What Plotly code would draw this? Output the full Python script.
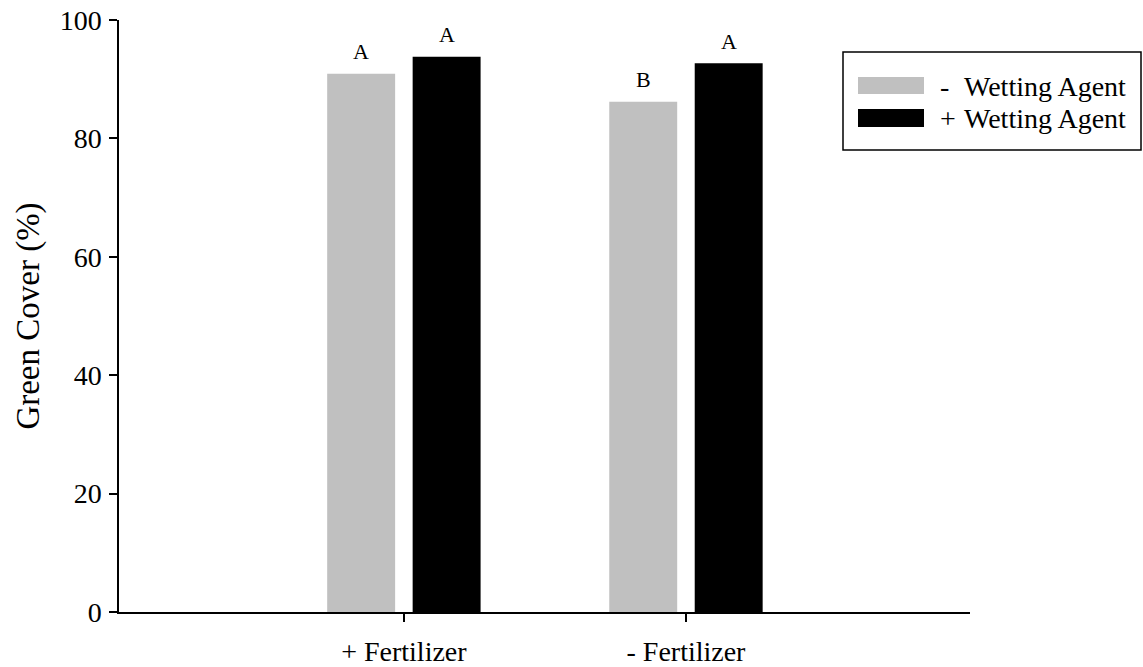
import plotly.graph_objects as go

# Data
categories = ["+ Fertilizer", "- Fertilizer"]
series_names = ["-  Wetting Agent", "+ Wetting Agent"]
no_agent = [90.9, 86.2]
with_agent = [93.8, 92.7]
no_agent_letters = ["A", "B"]
with_agent_letters = ["A", "A"]
y_ticks = [0, 20, 40, 60, 80, 100]

FONT = "Liberation Serif, Times New Roman, serif"
GRAY = "#c0c0c0"
BLACK = "#000000"

fig = go.Figure()
fig.add_trace(go.Bar(x=categories, y=no_agent, name=series_names[0],
                     marker=dict(color=GRAY, line=dict(width=0)), showlegend=False))
fig.add_trace(go.Bar(x=categories, y=with_agent, name=series_names[1],
                     marker=dict(color=BLACK, line=dict(width=0)), showlegend=False))

# Significance letters above each bar
slot = 0.303
for i, cat in enumerate(categories):
    for vals, letters, off in ((no_agent, no_agent_letters, -slot / 2),
                               (with_agent, with_agent_letters, slot / 2)):
        fig.add_annotation(x=i + off, y=vals[i], text=letters[i], showarrow=False,
                           xref="x", yref="y", yanchor="middle", yshift=22,
                           font=dict(family=FONT, size=22, color="black"))

# Legend box drawn on paper coordinates
L, R, T, B = 119, 970, 20, 612
px = lambda v: (v - L) / (R - L)
py = lambda v: (B - v) / (B - T)

fig.add_shape(type="rect", xref="paper", yref="paper",
              x0=px(843), x1=px(1141), y0=py(150), y1=py(52),
              line=dict(color="black", width=1.5), fillcolor="white")
rows = [(GRAY, 77, 94, "-", 86), (BLACK, 109, 127, "+", 118)]
for (color, top, bot, sign, yc), name in zip(rows, ["Wetting Agent", "Wetting Agent"]):
    fig.add_shape(type="rect", xref="paper", yref="paper",
                  x0=px(858), x1=px(924), y0=py(bot), y1=py(top),
                  line=dict(width=0), fillcolor=color)
    fig.add_annotation(xref="paper", yref="paper", x=px(938), y=py(yc), text=sign,
                       showarrow=False, xanchor="left", yanchor="middle",
                       font=dict(family=FONT, size=28, color="black"))
    fig.add_annotation(xref="paper", yref="paper", x=px(962), y=py(yc), text=name,
                       showarrow=False, xanchor="left", yanchor="middle",
                       font=dict(family=FONT, size=28, color="black"))

fig.update_layout(
    width=1143, height=667,
    margin=dict(l=L, r=1143 - R, t=T, b=667 - B),
    paper_bgcolor="white", plot_bgcolor="white",
    barmode="group", bargap=0.394, bargroupgap=0.205,
    font=dict(family=FONT, size=28, color="black"),
)
fig.update_xaxes(
    range=[-1.01, 2.007], showline=True, linecolor="black", linewidth=1.5,
    ticks="outside", ticklen=8, tickwidth=1.5, tickcolor="black",
    ticklabelstandoff=6, showgrid=False, zeroline=False, automargin=False,
    tickfont=dict(family=FONT, size=28),
)
fig.update_yaxes(
    range=[0, 100], tickvals=y_ticks, showline=True, linecolor="black", linewidth=1.5,
    ticks="outside", ticklen=8, tickwidth=1.5, tickcolor="black",
    ticklabelstandoff=2, showgrid=False, zeroline=False, automargin=False,
    tickfont=dict(family=FONT, size=28),
    title=dict(text="Green Cover (%)", font=dict(family=FONT, size=33), standoff=10),
)

fig.write_html("out.html")
